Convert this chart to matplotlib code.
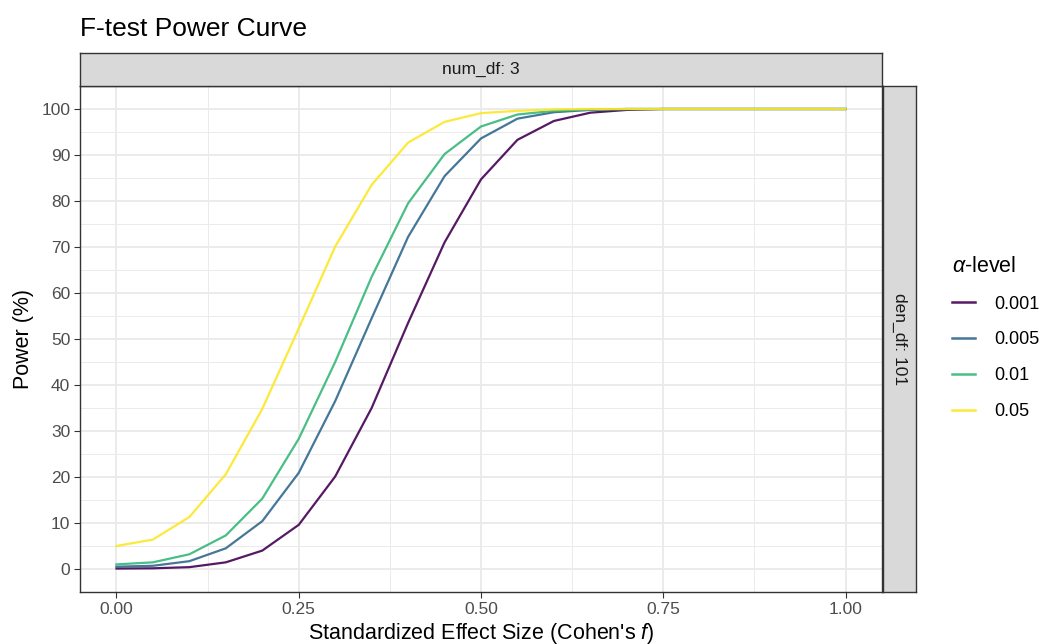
import matplotlib.pyplot as plt
from matplotlib.lines import Line2D

plt.rcParams['font.family'] = ['Liberation Sans', 'DejaVu Sans']
plt.rcParams['mathtext.fontset'] = 'custom'
plt.rcParams['mathtext.it'] = 'Liberation Sans:italic'
plt.rcParams['mathtext.rm'] = 'Liberation Sans'

effect_size = [0.00, 0.05, 0.10, 0.15, 0.20, 0.25, 0.30, 0.35, 0.40, 0.45, 0.50,
               0.55, 0.60, 0.65, 0.70, 0.75, 0.80, 0.85, 0.90, 0.95, 1.00]

alpha_levels = ['0.001', '0.005', '0.01', '0.05']

power_001 = [0.1, 0.15, 0.4, 1.45, 4.0, 9.6, 20.1, 35.0, 53.5, 71.0, 84.7,
             93.3, 97.4, 99.2, 99.8, 100, 100, 100, 100, 100, 100]
power_005 = [0.5, 0.7, 1.7, 4.5, 10.4, 20.9, 36.5, 54.5, 72.2, 85.4, 93.6,
             97.9, 99.3, 99.8, 100, 100, 100, 100, 100, 100, 100]
power_01 = [1.0, 1.45, 3.2, 7.3, 15.3, 28.3, 45.0, 63.5, 79.5, 90.2, 96.2,
            98.8, 99.6, 99.9, 100, 100, 100, 100, 100, 100, 100]
power_05 = [5.0, 6.4, 11.3, 20.6, 34.8, 52.3, 70.1, 83.5, 92.7, 97.2, 99.1,
            99.6, 99.9, 100, 100, 100, 100, 100, 100, 100, 100]

colors = ['#440154', '#31688E', '#35B779', '#FDE725']

W, H = 1041, 644
fig = plt.figure(figsize=(W / 100, H / 100), dpi=100)


def box(x0, y0, x1, y1):
    # pixel box (top-left origin) -> figure fraction
    return [x0 / W, 1 - y1 / H, (x1 - x0) / W, (y1 - y0) / H]


ax = fig.add_axes(box(80, 86, 882, 592))
for vals, col, lab in zip([power_001, power_005, power_01, power_05], colors, alpha_levels):
    ax.plot(effect_size, vals, color=col, lw=1.6, alpha=0.9, label=lab, zorder=3)

ax.set_xlim(-0.05, 1.05)
ax.set_ylim(-5, 105)
ax.set_xticks([0, 0.25, 0.5, 0.75, 1.0])
ax.set_xticklabels(['0.00', '0.25', '0.50', '0.75', '1.00'])
ax.set_xticks([0.125, 0.375, 0.625, 0.875], minor=True)
ax.set_yticks(range(0, 101, 10))
ax.set_yticks(range(5, 100, 10), minor=True)
ax.grid(which='major', color='#EBEBEB', lw=1.4)
ax.grid(which='minor', color='#EBEBEB', lw=0.7)
ax.set_axisbelow(True)
for s in ax.spines.values():
    s.set_color('#333333')
    s.set_linewidth(1.0)
ax.tick_params(which='major', length=4, width=0.8, color='#333333',
               labelsize=12.5, labelcolor='#4D4D4D', pad=3)
ax.tick_params(which='minor', length=0)
ax.set_xlabel("Standardized Effect Size (Cohen's $f$)", fontsize=15.5, labelpad=3)
ax.set_ylabel('Power (%)', fontsize=15.5, labelpad=5)

# facet strips
top = fig.add_axes(box(80, 53, 882, 86))
top.set_facecolor('#D9D9D9')
top.set_xticks([])
top.set_yticks([])
for s in top.spines.values():
    s.set_color('#333333')
    s.set_linewidth(1.0)
top.text(0.5, 0.5, 'num_df: 3', ha='center', va='center', fontsize=12.5,
         color='#1A1A1A', transform=top.transAxes)

right = fig.add_axes(box(883, 86, 916, 592))
right.set_facecolor('#D9D9D9')
right.set_xticks([])
right.set_yticks([])
for s in right.spines.values():
    s.set_color('#333333')
    s.set_linewidth(1.0)
right.text(0.5, 0.5, 'den_df: 101', ha='center', va='center', fontsize=12.5,
           color='#1A1A1A', rotation=-90, transform=right.transAxes)

fig.text(80 / W, 1 - 36 / H, 'F-test Power Curve', fontsize=19, ha='left', va='baseline')

handles = [Line2D([], [], color=c, lw=1.8, alpha=0.9) for c in colors]
leg = fig.legend(handles, alpha_levels, title=r'$\alpha$-level', loc='center left',
                 bbox_to_anchor=(952 / W, 1 - 338 / H), frameon=False, fontsize=13,
                 title_fontsize=15.5, handlelength=1.25, handletextpad=1.1,
                 labelspacing=1.05, borderpad=0, borderaxespad=0)
leg._legend_box.align = 'left'

fig.savefig('out.png', dpi=100)
